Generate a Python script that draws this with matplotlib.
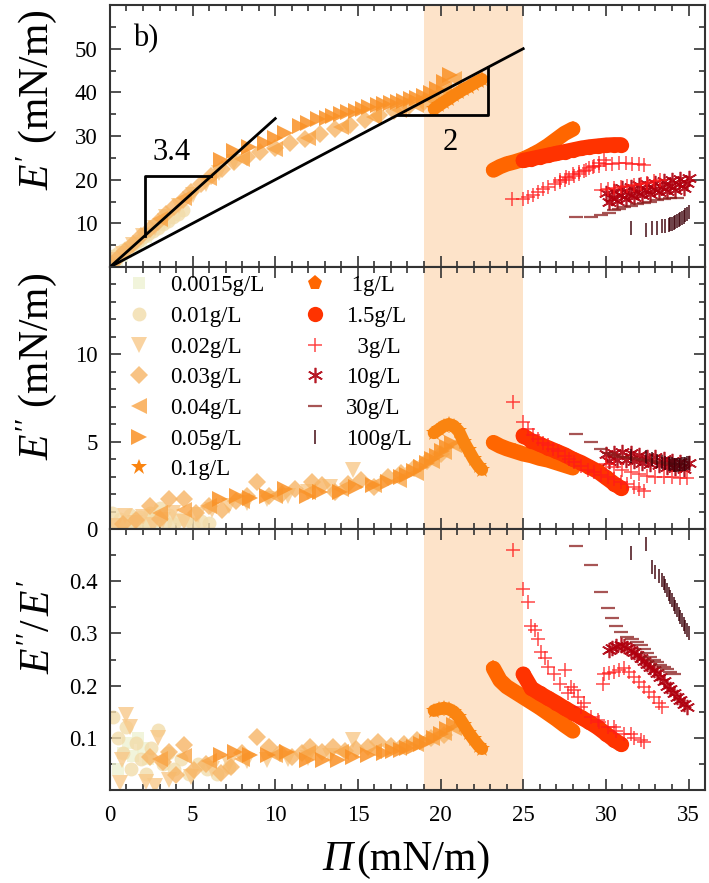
import matplotlib.pyplot as plt
from matplotlib.lines import Line2D
from matplotlib.ticker import MultipleLocator

plt.rcParams['font.family'] = ['Liberation Serif', 'DejaVu Serif']
plt.rcParams['mathtext.fontset'] = 'custom'
plt.rcParams['mathtext.rm'] = 'Liberation Serif'
plt.rcParams['mathtext.it'] = 'Liberation Serif:italic'

# ---- data: x = surface pressure, 1 = E', 2 = E'', 3 = E''/E'
# 0.0015 g/L
x1_0015 = [0.1, 0.4, 0.7, 1.0, 1.3, 1.6, 1.9, 2.2]
y1_0015 = [0.8, 1.7, 2.6, 3.4, 4.3, 5.1, 6.0, 6.8]
x2_0015 = [0.2, 0.5, 0.8, 1.1, 1.4, 1.7, 2.0, 2.3, 2.6]
y2_0015 = [0.15, 0.3, 0.2, 0.45, 0.3, 0.55, 0.4, 0.6, 0.35]
x3_0015 = [0.5, 0.8, 1.1, 1.4, 1.7, 2.0, 2.3]
y3_0015 = [0.04, 0.07, 0.09, 0.065, 0.1, 0.08, 0.06]
# 0.01 g/L
x1_001 = [0.2, 0.5, 0.8, 1.1, 1.4, 1.7, 2.0, 2.3, 2.6, 2.9, 3.2, 3.5, 3.8, 4.1, 4.4]
y1_001 = [2.6, 3.2, 3.9, 4.6, 5.3, 6.0, 6.8, 7.5, 8.2, 9.0, 9.8, 10.6, 11.4, 12.2, 13.0]
x2_001 = [0.1, 0.3, 0.6, 0.9, 1.2, 1.5, 1.8, 2.1, 2.4, 2.7, 3.0, 3.3, 3.6, 3.9, 4.2, 4.6, 5.0, 5.5, 6.0]
y2_001 = [0.9, 0.3, 0.6, 0.2, 0.8, 0.4, 0.7, 0.3, 0.9, 0.5, 1.2, 0.4, 0.8, 0.3, 0.6, 0.5, 0.3, 0.45, 0.35]
x3_001 = [0.2, 0.5, 0.8, 1.0, 1.3, 1.6, 1.9, 2.2, 2.5, 2.9, 3.2, 3.5, 3.9, 4.3, 4.8, 5.3, 5.9, 6.5, 7.2]
y3_001 = [0.14, 0.10, 0.07, 0.12, 0.04, 0.09, 0.06, 0.03, 0.08, 0.115, 0.05, 0.07, 0.04, 0.06, 0.03, 0.05, 0.04, 0.03, 0.045]
# 0.02 g/L
x1_002 = [0.3, 0.8, 1.4, 2.0, 2.7, 3.4, 4.2, 5.0, 5.8, 6.6, 7.5]
y1_002 = [1.5, 3.0, 5.0, 7.0, 9.0, 11.5, 14.0, 16.5, 19.0, 21.5, 24.0]
x2_002 = [0.3, 0.9, 1.5, 2.0, 2.6, 3.2, 3.8, 4.5, 5.3, 6.2, 7.2, 8.3, 9.5, 10.8, 12.0, 13.3, 14.7]
y2_002 = [0.2, 0.76, 0.35, 0.67, 0.25, 0.5, 0.9, 0.4, 0.8, 1.1, 1.3, 1.5, 1.7, 1.9, 2.1, 2.4, 3.4]
x3_002 = [0.6, 1.0, 1.2, 2.2, 0.7, 2.9, 2.7, 4.9, 3.6, 6.2, 7.2, 8.3, 9.5, 10.8, 12.0, 13.3, 14.7]
y3_002 = [0.013, 0.143, 0.121, 0.016, 0.057, 0.099, 0.008, 0.025, 0.02, 0.04, 0.05, 0.055, 0.058, 0.06, 0.062, 0.065, 0.095]
# 0.03 g/L
x1_003 = [0.1, 0.4, 0.9, 1.4, 1.9, 2.4, 2.9, 3.4, 3.9, 4.4, 4.9, 5.5, 6.1, 6.8, 7.5, 8.3, 9.1, 10.0,
          10.9, 11.8, 12.7, 13.6, 14.5, 15.4, 16.3, 17.2, 18.1, 19.0, 19.8, 20.5]
y1_003 = [0.6, 1.9, 3.6, 5.3, 7.0, 8.7, 10.4, 12.1, 13.8, 15.4, 17.1, 19.0, 20.8, 22.5, 24.0, 25.3, 26.3, 27.3,
          28.3, 29.4, 30.4, 31.5, 32.6, 33.7, 34.8, 35.8, 36.8, 37.8, 38.6, 39.2]
x2_003 = [0.8, 1.6, 2.4, 3.0, 3.6, 4.5, 5.2, 6.0, 6.8, 7.6, 8.3, 8.9, 9.6, 10.4, 11.2, 12.2, 12.8, 13.6,
          14.4, 15.2, 16.0, 16.8, 17.6, 18.4, 19.2, 20.0]
y2_003 = [0.3, 0.5, 1.33, 0.6, 1.7, 1.7, 0.9, 1.3, 1.1, 1.6, 1.9, 2.67, 1.9, 2.0, 2.3, 2.67, 2.5, 2.1,
          2.6, 2.8, 2.4, 3.0, 3.2, 3.5, 3.9, 4.3]
x3_003 = [2.4, 3.2, 3.6, 4.5, 4.0, 5.1, 5.8, 6.7, 7.3, 8.0, 8.9, 9.6, 10.3, 11.0, 11.6, 12.1, 12.8, 13.5,
          14.2, 14.9, 15.6, 16.2, 17.0, 17.8, 18.6, 19.4, 20.2]
y3_003 = [0.064, 0.054, 0.073, 0.086, 0.029, 0.038, 0.05, 0.032, 0.045, 0.07, 0.102, 0.083, 0.07, 0.064,
          0.07, 0.083, 0.072, 0.083, 0.075, 0.078, 0.082, 0.092, 0.085, 0.088, 0.095, 0.1, 0.105]
# 0.04 g/L
x1_004 = [3.0, 4.5, 6.0, 8.0, 10.0, 12.0, 14.0, 16.0, 17.5, 18.5, 19.5, 20.2, 20.8]
y1_004 = [11.0, 15.8, 20.5, 24.8, 27.0, 29.5, 32.0, 34.3, 36.0, 37.0, 38.2, 40.5, 43.0]
x2_004 = [3.0, 4.5, 6.0, 8.0, 10.0, 12.0, 14.0, 16.0, 17.5, 18.5, 19.5, 20.2, 20.8]
y2_004 = [0.9, 1.1, 1.3, 1.6, 1.9, 2.1, 2.3, 2.5, 2.8, 3.2, 3.9, 4.4, 4.8]
x3_004 = [3.0, 4.5, 6.0, 8.0, 10.0, 12.0, 14.0, 16.0, 17.5, 18.5, 19.5, 20.2, 20.8]
y3_004 = [0.06, 0.065, 0.055, 0.06, 0.068, 0.07, 0.072, 0.075, 0.08, 0.088, 0.1, 0.11, 0.118]
# 0.05 g/L
x1_005 = [6.7, 7.5, 8.4, 9.4, 10.0, 10.6, 11.5, 12.0, 12.6, 13.1, 13.5, 14.0, 14.4, 14.9, 15.3, 15.7, 16.2,
          16.6, 17.0, 17.4, 17.8, 18.2, 18.6, 19.0, 19.4, 19.8, 20.2, 20.6]
y1_005 = [24.6, 26.5, 27.6, 28.5, 29.6, 30.8, 32.3, 33.0, 33.8, 34.2, 34.6, 35.0, 35.4, 35.8, 36.2, 36.6, 37.0,
          37.3, 37.6, 37.9, 38.1, 38.4, 38.8, 39.2, 39.8, 40.8, 42.3, 44.0]
x2_005 = [6.66, 7.67, 8.5, 9.5, 10.6, 11.9, 12.7, 13.9, 14.9, 15.9, 16.8, 17.6, 18.0, 18.4, 18.8, 19.2,
          19.5, 19.8, 20.1, 20.4, 20.7]
y2_005 = [1.71, 1.9, 1.8, 1.9, 2.29, 1.9, 2.1, 2.1, 2.4, 2.5, 2.67, 2.97, 3.1, 3.3, 3.55, 3.8, 4.0, 4.2,
          4.45, 4.7, 4.95]
x3_005 = [6.74, 7.55, 8.46, 9.57, 10.7, 11.9, 12.9, 13.8, 14.7, 15.6, 16.6, 17.1, 17.6, 18.0, 18.4, 18.8,
          19.2, 19.6, 20.0, 20.4, 20.8]
y3_005 = [0.067, 0.073, 0.067, 0.067, 0.073, 0.057, 0.057, 0.057, 0.064, 0.067, 0.071, 0.074, 0.077, 0.080,
          0.083, 0.088, 0.092, 0.100, 0.108, 0.116, 0.124]
# 0.1 g/L
x_01 = [19.6, 19.9, 20.2, 20.5, 20.8, 21.1, 21.4, 21.7, 22.0, 22.3, 22.5]
y1_01 = [36.2, 37.0, 37.8, 38.5, 39.3, 40.0, 40.7, 41.3, 42.0, 42.6, 43.0]
y2_01 = [5.5, 5.7, 5.9, 6.0, 5.9, 5.6, 5.0, 4.5, 4.0, 3.6, 3.4]
y3_01 = [0.152, 0.155, 0.157, 0.155, 0.150, 0.140, 0.125, 0.110, 0.097, 0.085, 0.079]
# 1 g/L
x_1 = [23.2, 23.6, 24.0, 24.5, 25.0, 25.5, 26.0, 26.5, 27.0, 27.5, 28.0]
y1_1 = [22.2, 23.0, 23.6, 24.1, 24.7, 25.6, 26.6, 27.8, 29.2, 30.6, 31.6]
y2_1 = [4.95, 4.75, 4.6, 4.45, 4.3, 4.2, 4.05, 3.95, 3.8, 3.65, 3.5]
y3_1 = [0.233, 0.21, 0.198, 0.188, 0.178, 0.168, 0.158, 0.147, 0.136, 0.124, 0.113]
# 1.5 g/L
x_15 = [25.0, 25.5, 26.0, 26.5, 27.0, 27.5, 28.0, 28.5, 29.0, 29.5, 30.0, 30.5, 30.9]
y1_15 = [24.4, 24.8, 25.2, 25.6, 26.0, 26.4, 26.8, 27.2, 27.5, 27.7, 27.9, 28.0, 28.0]
y2_15 = [5.35, 5.05, 4.85, 4.65, 4.45, 4.25, 4.0, 3.8, 3.55, 3.3, 2.95, 2.6, 2.35]
y3_15 = [0.222, 0.195, 0.185, 0.176, 0.167, 0.157, 0.148, 0.139, 0.13, 0.12, 0.108, 0.096, 0.088]
# 3 g/L
x1_3 = [24.3, 25.0, 25.3, 25.6, 25.9, 26.2, 26.5, 26.9, 27.2, 27.5, 27.8, 28.1, 28.4, 28.7, 29.0, 29.3, 29.6,
        29.9, 27.2, 27.6, 28.0, 28.4, 28.8, 29.2, 29.6, 30.0, 30.4, 30.8, 31.2, 31.6, 32.0, 32.3]
y1_3 = [15.6, 15.6, 16.0, 16.6, 17.2, 17.8, 18.3, 18.9, 19.4, 19.9, 20.3, 20.8, 21.4, 22.0, 22.6, 23.2, 23.9,
        24.6, 20.0, 20.6, 21.2, 21.8, 22.3, 22.8, 23.2, 23.5, 23.7, 23.8, 23.8, 23.7, 23.5, 23.3]
x2_3 = [24.4, 25.0, 25.3, 25.6, 25.9, 26.2, 26.5, 26.8, 27.1, 27.5, 27.8, 28.1, 28.5, 28.9, 29.3, 29.7, 30.1,
        30.5, 30.9, 31.3, 31.7, 32.0, 32.3]
y2_3 = [7.3, 6.1, 5.7, 5.4, 5.15, 4.95, 4.8, 4.6, 4.45, 4.2, 4.0, 3.85, 3.6, 3.4, 3.25, 3.1, 3.0, 2.85, 2.7,
        2.55, 2.4, 2.3, 2.2]
x3_3 = [24.4, 25.0, 25.3, 25.5, 25.7, 25.9, 26.1, 26.3, 26.5, 26.85, 27.25, 27.5, 27.7, 27.9, 28.1, 28.3,
        28.5, 28.7, 29.1, 29.5, 29.6, 30.1, 30.5, 30.6, 31.1, 31.5, 31.7, 32.1, 32.3]
y3_3 = [0.46, 0.386, 0.36, 0.315, 0.306, 0.29, 0.264, 0.252, 0.236, 0.223, 0.204, 0.229, 0.185, 0.198,
        0.191, 0.178, 0.159, 0.166, 0.14, 0.134, 0.13, 0.121, 0.121, 0.114, 0.108, 0.108, 0.1, 0.096, 0.092]
# 3 g/L, second run
x1_3b = [29.7, 30.1, 30.5, 30.9, 31.3, 31.7, 32.1, 32.5, 32.9, 33.3]
y1_3b = [17.6, 17.8, 18.0, 18.3, 18.5, 18.7, 18.9, 19.3, 19.6, 20.0]
x2_3b = [30.0, 30.5, 31.0, 31.5, 32.0, 32.5, 33.0, 33.5, 34.0, 34.5, 34.9]
y2_3b = [3.7, 3.55, 3.4, 3.25, 3.15, 3.05, 3.0, 2.97, 2.95, 2.93, 2.9]
x3_3b = [29.8, 29.9, 30.2, 30.5, 30.8, 31.1, 31.4, 31.7, 32.0, 32.3, 32.6, 32.9, 33.2, 33.4]
y3_3b = [0.203, 0.223, 0.224, 0.226, 0.23, 0.233, 0.226, 0.217, 0.207, 0.198, 0.188, 0.178, 0.166, 0.159]
# 10 g/L
x1_10 = [30.0, 30.5, 31.0, 31.5, 32.0, 32.5, 33.0, 33.5, 34.0, 34.5, 35.0,
         30.2, 30.7, 31.2, 31.7, 32.2, 32.7, 33.2, 33.7, 34.2, 34.7,
         30.4, 30.9, 31.4, 31.9, 32.4, 32.9, 33.4, 33.9, 34.4, 34.9]
y1_10 = [17.0, 17.5, 18.0, 18.4, 18.7, 19.0, 19.3, 19.6, 19.9, 20.2, 20.4,
         14.8, 15.2, 15.6, 16.0, 16.4, 16.8, 17.1, 17.4, 17.7, 18.0,
         15.9, 16.4, 16.8, 17.2, 17.6, 17.9, 18.3, 18.6, 18.9, 19.2]
x2_10 = [30.0, 30.5, 31.0, 31.5, 32.0, 32.5, 33.0, 33.5, 34.0, 34.5, 35.0,
         30.2, 30.7, 31.2, 31.7, 32.2, 32.7, 33.2, 33.7, 34.2, 34.7]
y2_10 = [4.3, 4.35, 4.4, 4.35, 4.25, 4.15, 4.1, 4.0, 3.9, 3.85, 3.8,
         3.9, 3.95, 3.95, 3.9, 3.8, 3.7, 3.65, 3.55, 3.5, 3.45]
x3_10 = [30.2, 30.4, 30.6, 30.9, 31.1, 31.3, 31.5, 31.7, 31.9, 32.1, 32.3, 32.5, 32.7, 32.9, 33.1, 33.3,
         33.5, 33.7, 33.9, 34.1, 34.3, 34.5, 34.7, 34.9]
y3_10 = [0.268, 0.272, 0.275, 0.277, 0.275, 0.272, 0.268, 0.264, 0.258, 0.253, 0.248, 0.242, 0.236, 0.23,
         0.224, 0.217, 0.209, 0.2, 0.193, 0.185, 0.178, 0.172, 0.165, 0.159]
# 30 g/L
x1_30 = [28.2, 29.1, 29.7, 30.2, 30.5, 30.8, 31.1, 31.5, 31.9, 32.3, 32.7, 33.1, 33.5, 33.9, 34.3]
y1_30 = [11.4, 11.4, 12.0, 12.3, 13.1, 13.4, 13.7, 14.0, 14.4, 14.7, 15.0, 15.3, 15.5, 15.7, 15.9]
x2_30 = [28.2, 29.1, 29.7, 30.2, 30.5, 30.8, 31.1, 31.5, 31.9, 32.3, 32.7, 33.1, 33.5, 33.9, 34.3]
y2_30 = [5.43, 5.0, 4.6, 4.38, 4.25, 4.15, 4.1, 4.05, 4.0, 3.95, 3.9, 3.85, 3.8, 3.75, 3.7]
x3_30 = [28.2, 29.1, 29.7, 30.1, 30.4, 30.6, 30.9, 31.3, 31.6, 31.9, 32.1, 32.3, 32.5, 32.7, 32.9, 33.1,
         33.3, 33.5, 33.7, 33.9, 34.1]
y3_30 = [0.468, 0.432, 0.379, 0.349, 0.33, 0.315, 0.303, 0.294, 0.289, 0.284, 0.277, 0.27, 0.262, 0.255,
         0.25, 0.245, 0.24, 0.236, 0.232, 0.227, 0.222]
# 100 g/L
x1_100 = [31.5, 32.4, 32.8, 33.1, 33.4, 33.6, 33.8, 33.9, 34.0, 34.1, 34.2, 34.3, 34.4, 34.5, 34.6, 34.7,
          34.8, 34.9, 35.0]
y1_100 = [8.9, 8.5, 8.9, 8.9, 9.3, 9.4, 9.6, 9.75, 9.9, 10.1, 10.3, 10.5, 10.7, 10.9, 11.2, 11.5, 11.8,
          12.2, 12.6]
x2_100 = [31.5, 32.4, 32.8, 33.1, 33.4, 33.6, 33.8, 33.9, 34.0, 34.1, 34.2, 34.3, 34.4, 34.5, 34.6, 34.7,
          34.8, 34.9, 35.0]
y2_100 = [4.2, 4.1, 4.0, 3.9, 3.85, 3.8, 3.75, 3.72, 3.7, 3.68, 3.66, 3.65, 3.65, 3.66, 3.7, 3.72, 3.75,
          3.78, 3.8]
x3_100 = [31.5, 32.4, 32.8, 33.0, 33.2, 33.4, 33.5, 33.6, 33.7, 33.8, 33.9, 34.0, 34.1, 34.2, 34.3, 34.4,
          34.5, 34.6, 34.7, 34.8, 34.9, 35.0]
y3_100 = [0.454, 0.472, 0.427, 0.418, 0.41, 0.402, 0.396, 0.39, 0.383, 0.376, 0.37, 0.364, 0.357, 0.35,
          0.344, 0.337, 0.331, 0.325, 0.318, 0.312, 0.306, 0.30]

slope_a = 3.4
slope_b = 2

# label, marker, colour, size, edge width, alpha, thick band line width, panel data
series = [
    ('0.0015g/L', 's', '#eef2d2', 9, 0, 0.8, 0, [(x1_0015, y1_0015), (x2_0015, y2_0015), (x3_0015, y3_0015)]),
    ('0.01g/L', 'o', '#f2dcaa', 10, 0, 0.8, 0, [(x1_001, y1_001), (x2_001, y2_001), (x3_001, y3_001)]),
    ('0.02g/L', 'v', '#f8c98a', 11, 0, 0.8, 0, [(x1_002, y1_002), (x2_002, y2_002), (x3_002, y3_002)]),
    ('0.03g/L', 'D', '#f7b565', 9, 0, 0.8, 0, [(x1_003, y1_003), (x2_003, y2_003), (x3_003, y3_003)]),
    ('0.04g/L', '<', '#f9a445', 11, 0, 0.8, 0, [(x1_004, y1_004), (x2_004, y2_004), (x3_004, y3_004)]),
    ('0.05g/L', '>', '#fa9125', 11, 0, 0.85, 0, [(x1_005, y1_005), (x2_005, y2_005), (x3_005, y3_005)]),
    ('0.1g/L', '*', '#fa8410', 12, 0, 1.0, 9, [(x_01, y1_01), (x_01, y2_01), (x_01, y3_01)]),
    (' 1g/L', 'p', '#ff6600', 11, 0, 1.0, 11, [(x_1, y1_1), (x_1, y2_1), (x_1, y3_1)]),
    ('1.5g/L', 'o', '#ff3300', 11, 0, 1.0, 11, [(x_15, y1_15), (x_15, y2_15), (x_15, y3_15)]),
    ('  3g/L', '+', '#ff1a1a', 10, 1.1, 0.8, 0, [(x1_3, y1_3), (x2_3, y2_3), (x3_3, y3_3)]),
    ('10g/L', (6, 2, 0), '#b0000e', 11, 1.2, 0.9, 0, [(x1_10, y1_10), (x2_10, y2_10), (x3_10, y3_10)]),
    ('30g/L', '_', '#8a1c1c', 10, 1.6, 0.75, 0, [(x1_30, y1_30), (x2_30, y2_30), (x3_30, y3_30)]),
    ('100g/L', '|', '#3c0008', 10, 1.4, 0.75, 0, [(x1_100, y1_100), (x2_100, y2_100), (x3_100, y3_100)]),
]

fig = plt.figure(figsize=(7.09, 8.83), dpi=100)
ax1 = fig.add_axes([0.1551, 0.6976, 0.8393, 0.2967])
ax2 = fig.add_axes([0.1551, 0.4009, 0.8393, 0.2967])
ax3 = fig.add_axes([0.1551, 0.1053, 0.8393, 0.2956])
axes = [ax1, ax2, ax3]

for ax in axes:
    ax.axvspan(19, 25, color='#fde3c9', lw=0, zorder=0)

handles = []
for label, mk, col, ms, mew, al, band, panels in series:
    for ax, (xs, ys) in zip(axes, panels):
        if band:
            ax.plot(xs, ys, '-', color=col, lw=band, alpha=al, solid_capstyle='round', zorder=2)
        ax.plot(xs, ys, ls='none', marker=mk, color=col, ms=ms, mew=mew, alpha=al, zorder=2)
    handles.append(Line2D([], [], ls='none', marker=mk, color=col, ms=ms, mew=mew, alpha=al, label=label))

# second 3 g/L run
for ax, (xs, ys) in zip(axes, [(x1_3b, y1_3b), (x2_3b, y2_3b), (x3_3b, y3_3b)]):
    ax.plot(xs, ys, ls='none', marker='+', color='#ff1a1a', ms=10, mew=1.1, alpha=0.8, zorder=2)

# slope guides
ax1.plot([0, 10], [0, slope_a * 10], 'k', lw=2, zorder=3)
ax1.plot([0, 25], [0, slope_b * 25], 'k', lw=2, zorder=3)
ax1.plot([2.1, 2.1, 6.12], [slope_a * 2.1, 20.8, 20.8], 'k', lw=2, zorder=3)
ax1.plot([17.4, 22.85, 22.85], [34.8, 34.8, slope_b * 22.85], 'k', lw=2, zorder=3)
ax1.text(3.7, 26.3, '3.4', fontsize=22, ha='center', va='center')
ax1.text(20.6, 28.6, '2', fontsize=22, ha='center', va='center')
ax1.text(1.4, 52.4, 'b)', fontsize=22, ha='left', va='center')

ax1.set_ylim(0, 60)
ax1.set_yticks([10, 20, 30, 40, 50])
ax1.yaxis.set_minor_locator(MultipleLocator(5))
ax2.set_ylim(0, 15)
ax2.set_yticks([0, 5, 10])
ax2.yaxis.set_minor_locator(MultipleLocator(1))
ax3.set_ylim(0, 0.5)
ax3.set_yticks([0.1, 0.2, 0.3, 0.4])
ax3.set_yticklabels(['0.1', '0.2', '0.3', '0.4'])
ax3.yaxis.set_minor_locator(MultipleLocator(0.05))

for ax in axes:
    ax.set_xlim(0, 36)
    ax.set_xticks(range(0, 36, 5))
    ax.xaxis.set_minor_locator(MultipleLocator(1))
    ax.tick_params(which='both', direction='in', top=True, right=True, width=1.2,
                   color='#333333', labelsize=16.5)
    ax.tick_params(axis='y', pad=9)
    ax.tick_params(axis='x', pad=11)
    ax.tick_params(which='major', length=8)
    ax.tick_params(which='minor', length=4.5)
    for sp in ax.spines.values():
        sp.set_linewidth(1.5)
        sp.set_color('#333333')
ax1.tick_params(labelbottom=False)
ax2.tick_params(labelbottom=False)

ax1.set_ylabel(r"$E'$ (mN/m)", fontsize=30)
ax2.set_ylabel(r"$E''$ (mN/m)", fontsize=30)
ax3.set_ylabel(r"$E''/\,E'$", fontsize=30)
ax1.yaxis.set_label_coords(-0.085, 0.64)
ax2.yaxis.set_label_coords(-0.085, 0.62)
ax3.yaxis.set_label_coords(-0.085, 0.625)
ax3.text(0.407, -0.195, 'Π', style='italic', fontsize=30, transform=ax3.transAxes, ha='right', va='top')
ax3.text(0.413, -0.195, '(mN/m)', fontsize=30, transform=ax3.transAxes, ha='left', va='top')

ax2.legend(handles=handles, ncol=2, loc='upper left', bbox_to_anchor=(0.03, 0.968), frameon=False,
           fontsize=16.5, handlelength=1.0, handletextpad=0.85, columnspacing=1.7, labelspacing=0.42,
           borderpad=0, borderaxespad=0)

fig.savefig('out.png', dpi=100)
